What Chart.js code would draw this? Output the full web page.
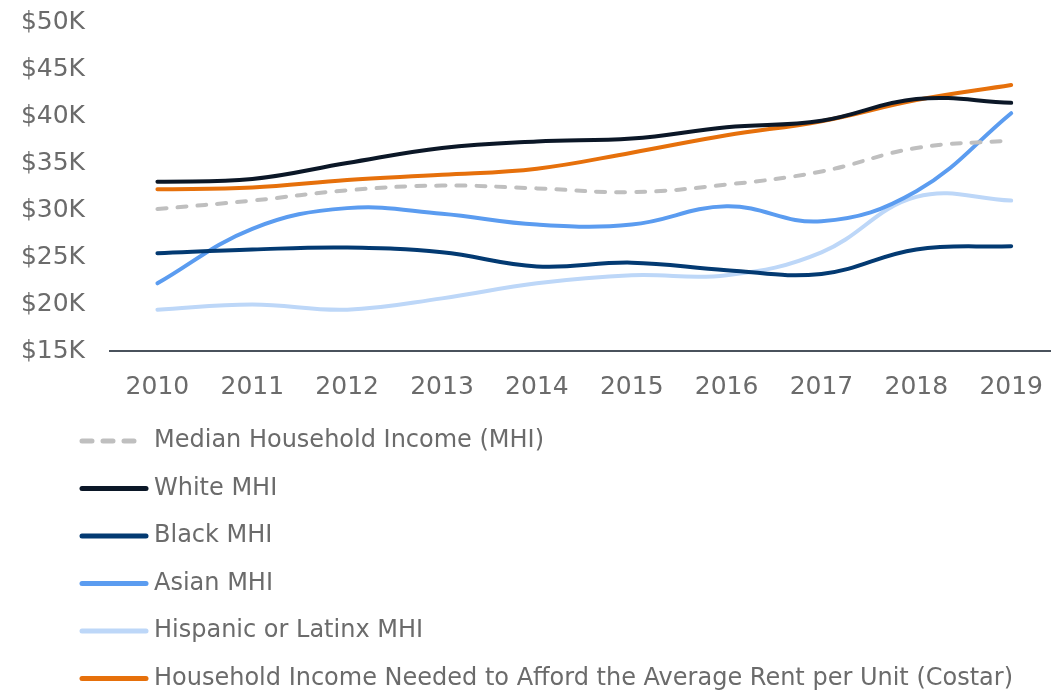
<!DOCTYPE html>
<html>
<head>
<meta charset="utf-8">
<script src="https://cdn.jsdelivr.net/npm/chart.js@4.4.1/dist/chart.umd.min.js"></script>
<style>
  html, body { margin:0; padding:0; background:#fff; overflow:hidden; }
  #wrap { width:1064px; height:712px; margin-top:-18px; position:relative; }
</style>
</head>
<body>
<div id="wrap"><canvas id="chart"></canvas></div>
<script>
const years = ["2010","2011","2012","2013","2014","2015","2016","2017","2018","2019"];

const medianMHI   = [30100, 31000, 32100, 32600, 32300, 31900, 32700, 34100, 36600, 37400];
const whiteMHI    = [33000, 33300, 35000, 36600, 37300, 37600, 38800, 39500, 41800, 41400];
const blackMHI    = [25400, 25800, 26000, 25500, 24000, 24400, 23600, 23200, 25800, 26150];
const asianMHI    = [22200, 28000, 30200, 29600, 28450, 28450, 30400, 28800, 32000, 40300];
const hispanicMHI = [19400, 19950, 19400, 20600, 22200, 23050, 23050, 25500, 31400, 31000];
const rentNeeded  = [32200, 32400, 33200, 33750, 34400, 36100, 37950, 39450, 41700, 43300];

const yTicks = [15000, 20000, 25000, 30000, 35000, 40000, 45000, 50000];

const textGray = "#6b6b6b";
const font = "'DejaVu Sans', sans-serif";
const shift = 18; // canvas is pulled up by this much

function ds(label, data, color, dash){
  return {
    label, data,
    borderColor: color,
    backgroundColor: color,
    borderWidth: 4,
    borderDash: dash || [],
    borderCapStyle: "round",
    tension: 0.4,
    pointRadius: 0,
    fill: false
  };
}

const datasets = [
  ds("Median Household Income (MHI)", medianMHI, "#bfbfbf", [9, 11]),
  ds("White MHI", whiteMHI, "#0b1727"),
  ds("Black MHI", blackMHI, "#033a72"),
  ds("Asian MHI", asianMHI, "#5b9cf0"),
  ds("Hispanic or Latinx MHI", hispanicMHI, "#bdd7f8"),
  ds("Household Income Needed to Afford the Average Rent per Unit (Costar)", rentNeeded, "#e6700b")
];

// one legend entry per line, drawn under the plot
const legendList = {
  id: "legendList",
  afterDraw(chart){
    const ctx = chart.ctx;
    ctx.save();
    chart.data.datasets.forEach((d, i) => {
      const y = shift + 441 + i * 47.5;
      ctx.beginPath();
      ctx.lineWidth = 5;
      ctx.lineCap = "round";
      ctx.strokeStyle = d.borderColor;
      ctx.setLineDash(d.borderDash.length ? [10, 11] : []);
      ctx.moveTo(82, y);
      ctx.lineTo(i === 0 ? 142 : 146, y);
      ctx.stroke();
      ctx.setLineDash([]);
      ctx.fillStyle = textGray;
      ctx.font = "24px " + font;
      ctx.textBaseline = "middle";
      ctx.textAlign = "left";
      ctx.fillText(d.label, 154, y);
    });
    ctx.restore();
  }
};

new Chart(document.getElementById("chart"), {
  type: "line",
  data: { labels: years, datasets },
  plugins: [legendList],
  options: {
    responsive: true,
    maintainAspectRatio: false,
    animation: false,
    layout: { padding: { top: 4, left: 0, right: 0, bottom: 0 } },
    plugins: { legend: { display: false }, tooltip: { enabled: false } },
    scales: {
      x: {
        offset: true,
        grid: { display: false, drawTicks: false },
        border: { display: true, color: "#4a525c", width: 2 },
        ticks: { color: textGray, font: { family: font, size: 25 }, padding: 21, maxRotation: 0 },
        afterFit(scale){ scale.height = 343; }
      },
      y: {
        min: 15000, max: 50000,
        afterBuildTicks(scale){ scale.ticks = yTicks.map(v => ({ value: v })); },
        grid: { display: false, drawTicks: false },
        border: { display: false },
        ticks: {
          color: textGray, font: { family: font, size: 25 }, padding: 25,
          callback: v => "$" + (v / 1000) + "K"
        },
        afterFit(scale){ scale.width = 110; }
      }
    }
  }
});
</script>
</body>
</html>
